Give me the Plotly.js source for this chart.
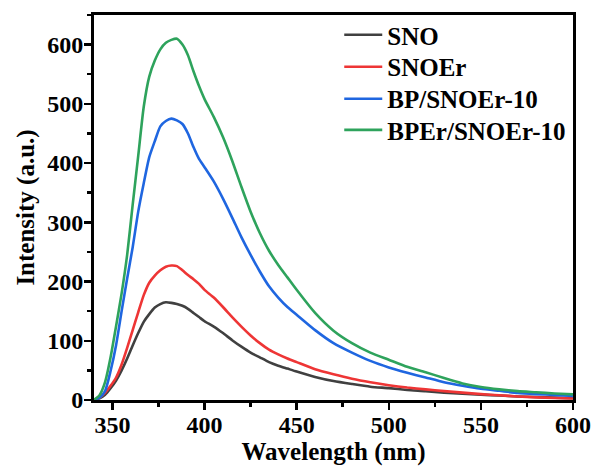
<!DOCTYPE html>
<html>
<head>
<meta charset="utf-8">
<script src="https://cdn.plot.ly/plotly-3.0.1.min.js"></script>
<style>html,body{margin:0;padding:0;background:#fff;}#chart{width:594px;height:468px;}</style>
</head>
<body>
<div id="chart"></div>
<script>
var wavelength = [340,343,346,349,352,355,358,361,364,367,370,373,376,379,382,385,388,391,394,397,400,405,410,415,420,425,430,435,440,445,450,460,470,480,490,500,510,520,530,540,550,560,570,580,590,600];
var sno = [0,3,9,20,33,50,70,92,113,132,145,156,162,165,164,162,159,154,147,140,133,124,113,101,90,80,72,64,58,53,48,39,32,27,22.5,20,17,15,12.5,10.5,9,7.5,6,5,4,3];
var snoer = [0,4,12,24,38,60,88,118,148,177,198,210,219,225,227,226,219,211,204,196,186,173,157,140,124,109,96,85,77,70,64,52,43.5,36,30,25,21,18,15,12.5,10,8,6,4.5,3.5,2.5];
var bpSnoer = [0,4,15,49,93,150,205,258,318,366,410,437,462,471,475,472,466,450,427,407,393,369,340,308,275,245,217,192,173,157,144,118,96,80,66,55,46,38,30,24,19,15.5,12,10,8.5,7];
var bperSnoer = [0,8,30,72,125,180,245,330,412,495,546,573,592,603,608,610,600,582,555,530,508,478,444,404,360,318,282,252,228,207,186,147,117,96,80,68,56,47,37,28,22,18,15,13,11,9.5];
var seriesNames = ["SNO","SNOEr","BP/SNOEr-10","BPEr/SNOEr-10"];
var seriesColors = ["#404040","#ee3535","#1f66e0","#2ea35c"];
var seriesData = [sno, snoer, bpSnoer, bperSnoer];
var xTicks = [350,400,450,500,550,600];
var yTicks = [0,100,200,300,400,500,600];

var fontFam = "Liberation Serif";
var legendIds = ['legend','legend2','legend3','legend4'];
var legendRowY = [0.948, 0.865, 0.782, 0.701];
var traces = seriesData.map(function(d,i){
  return {x: wavelength, y: d, type:'scatter', mode:'lines', name: seriesNames[i], legend: legendIds[i],
          line:{color: seriesColors[i], width:2.6, shape:'spline', smoothing:0.6}};
});
function axis(extra){
  var a = {
    showline:true, linecolor:'#000', linewidth:3, mirror:true,
    ticks:'outside', ticklen:7, tickwidth:2.5, tickcolor:'#000',
    showgrid:false, zeroline:false,
    tickfont:{family:fontFam, size:24, color:'#000', weight:'bold'}
  };
  for (var k in extra) a[k] = extra[k];
  return a;
}
var layout = {
  width:594, height:468,
  margin:{l:94, r:21, t:15, b:68},
  paper_bgcolor:'#fff', plot_bgcolor:'#fff',
  font:{family:fontFam, size:24, color:'#000', weight:'bold'},
  showlegend:true,
  xaxis: axis({
    range:[340,600], tickvals:xTicks, ticktext:xTicks.map(String),
    ticklabelstandoff:-6,
    minor:{ticks:'outside', ticklen:4, tickwidth:2.5, tickcolor:'#000', dtick:25, tick0:325},
    title:{text:'Wavelength (nm)', font:{family:fontFam, size:25, color:'#000', weight:'bold'}, standoff:0}
  }),
  yaxis: axis({
    range:[0,650], tickvals:yTicks, ticktext:yTicks.map(String),
    ticklabelstandoff:-4,
    minor:{ticks:'outside', ticklen:4, tickwidth:2.5, tickcolor:'#000', dtick:50, tick0:0},
    title:{text:'Intensity (a.u.)', font:{family:fontFam, size:25, color:'#000', weight:'bold'}, standoff:6}
  })
};
legendIds.forEach(function(id, i){
  layout[id] = {x:0.512, y:legendRowY[i], xanchor:'left', yanchor:'middle', bgcolor:'rgba(0,0,0,0)', borderwidth:0,
                itemwidth:38, font:{family:fontFam, size:25, color:'#000', weight:'bold'}};
});
Plotly.newPlot('chart', traces, layout, {staticPlot:true, displayModeBar:false});
</script>
</body>
</html>
